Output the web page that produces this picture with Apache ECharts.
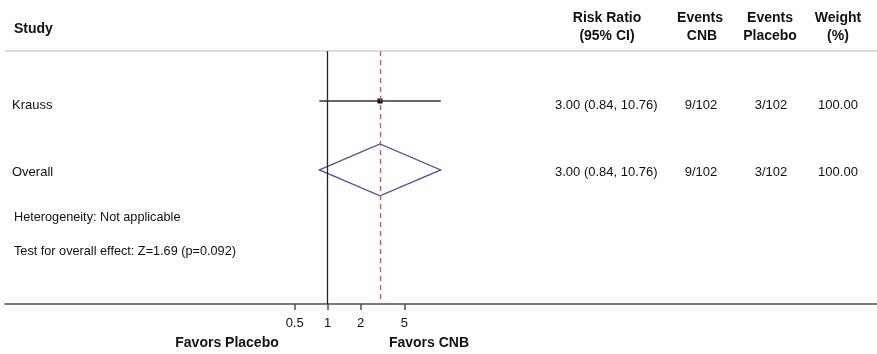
<!DOCTYPE html>
<html>
<head>
<meta charset="utf-8">
<script src="https://cdn.jsdelivr.net/npm/echarts@6/dist/echarts.min.js"></script>
<style>html,body{margin:0;padding:0;background:#fff}#c{width:877px;height:354px}</style>
</head>
<body>
<div id="c"></div>
<script>
// ---- data ----
const studies = ['Krauss'];
const studyRR = [3.00];
const studyLower = [0.84];
const studyUpper = [10.76];
const eventsCNB = ['9/102'];
const eventsPlacebo = ['3/102'];
const weights = ['100.00'];
const overallLabel = 'Overall';
const overallRR = [3.00];
const overallLower = [0.84];
const overallUpper = [10.76];
const overallEventsCNB = ['9/102'];
const overallEventsPlacebo = ['3/102'];
const overallWeight = ['100.00'];
const tickValues = [0.5, 1, 2, 5];
const tickLabels = ['0.5', '1', '2', '5'];
const hetText = 'Heterogeneity: Not applicable';
const testText = 'Test for overall effect: Z=1.69 (p=0.092)';
const favorsLeft = 'Favors Placebo';
const favorsRight = 'Favors CNB';

const FONT = "'Liberation Sans', Arial, sans-serif";
const lg = v => Math.log10(v);
const fmtRR = (r, l, u) => r.toFixed(2) + ' (' + l.toFixed(2) + ', ' + u.toFixed(2) + ')';

const studyRows = studies.map((s, i) => i + 1);
const overallRow = studies.length + 1;

const chart = echarts.init(document.getElementById('c'), null, {renderer: 'canvas'});

const whiskerData = studies.map((s, i) => [lg(studyLower[i]), lg(studyUpper[i]), studyRows[i], lg(studyRR[i])]);
const diamondData = overallRR.map((r, i) => [lg(overallLower[i]), lg(r), lg(overallUpper[i]), overallRow]);

chart.setOption({
  animation: false,
  grid: {left: 5, right: 0, top: 51, bottom: 50},
  xAxis: {
    type: 'value', min: -2.944, max: 5.012,
    splitLine: {show: false},
    axisLine: {show: true, lineStyle: {color: '#4d4d4d', width: 1.5}},
    axisTick: {show: true, length: 6, lineStyle: {color: '#4d4d4d', width: 1.5}, customValues: tickValues.map(lg)},
    axisLabel: {
      show: true, customValues: tickValues.map(lg), margin: 13,
      color: '#111', fontSize: 13, fontFamily: FONT,
      formatter: v => { const k = tickValues.findIndex(t => Math.abs(lg(t) - v) < 1e-6); return k >= 0 ? tickLabels[k] : ''; }
    }
  },
  yAxis: {type: 'value', inverse: true, min: 0.275, max: 3.945, show: false},
  series: [
    {
      type: 'custom', data: whiskerData,
      renderItem: (params, api) => {
        const a = api.coord([api.value(0), api.value(2)]);
        const b = api.coord([api.value(1), api.value(2)]);
        const p = api.coord([api.value(3), api.value(2)]);
        return {type: 'group', children: [
          {type: 'line', shape: {x1: a[0], y1: a[1], x2: b[0], y2: b[1]}, style: {stroke: '#333', lineWidth: 1.5}},
          {type: 'rect', shape: {x: p[0] - 2.5, y: p[1] - 2.5, width: 5, height: 5}, style: {fill: '#111'}}
        ]};
      },
      markLine: {
        silent: true, symbol: 'none', label: {show: false},
        data: [
          {xAxis: 0, lineStyle: {color: '#222', width: 1.3, type: 'solid'}},
          {xAxis: lg(overallRR[0]), lineStyle: {color: '#c45a5c', width: 1.3, type: [5, 4]}}
        ]
      }
    },
    {
      type: 'custom', data: diamondData,
      renderItem: (params, api) => {
        const l = api.coord([api.value(0), api.value(3)]);
        const c = api.coord([api.value(1), api.value(3)]);
        const r = api.coord([api.value(2), api.value(3)]);
        const h = 26;
        return {type: 'polygon', shape: {points: [[l[0], l[1]], [c[0], c[1] - h], [r[0], r[1]], [c[0], c[1] + h]]},
          style: {fill: 'none', stroke: '#4f4f9f', lineWidth: 1.3}};
      }
    }
  ]
});

function yOf(row) { return chart.convertToPixel({gridIndex: 0}, [0, row])[1]; }
const REG = '13px ' + FONT;
const BOLD = 'bold 14px ' + FONT;
function txt(x, y, t, align, font) {
  return {type: 'text', x: x, y: y, silent: true,
    style: {text: t, font: font || REG, fill: '#111', verticalAlign: 'middle', align: align || 'left'}};
}

const g = [];
// header separator
g.push({type: 'line', shape: {x1: 5, y1: 51, x2: 877, y2: 51}, style: {stroke: '#dcdcdc', lineWidth: 2}, silent: true});
// headers
g.push(txt(14, 29, 'Study', 'left', BOLD));
g.push(txt(607, 18, 'Risk Ratio', 'center', BOLD));
g.push(txt(607, 36, '(95% CI)', 'center', BOLD));
g.push(txt(700, 18, 'Events', 'center', BOLD));
g.push(txt(702, 36, 'CNB', 'center', BOLD));
g.push(txt(770, 18, 'Events', 'center', BOLD));
g.push(txt(770, 36, 'Placebo', 'center', BOLD));
g.push(txt(838, 18, 'Weight', 'center', BOLD));
g.push(txt(838, 36, '(%)', 'center', BOLD));
// study rows
studies.forEach((s, i) => {
  const y = yOf(studyRows[i]) + 4;
  g.push(txt(12, y, s));
  g.push(txt(555, y, fmtRR(studyRR[i], studyLower[i], studyUpper[i])));
  g.push(txt(701, y, eventsCNB[i], 'center'));
  g.push(txt(771, y, eventsPlacebo[i], 'center'));
  g.push(txt(838, y, weights[i], 'center'));
});
// overall row
{
  const y = yOf(overallRow) + 3;
  g.push(txt(12, y, overallLabel));
  g.push(txt(555, y, fmtRR(overallRR[0], overallLower[0], overallUpper[0])));
  g.push(txt(701, y, overallEventsCNB[0], 'center'));
  g.push(txt(771, y, overallEventsPlacebo[0], 'center'));
  g.push(txt(838, y, overallWeight[0], 'center'));
}
g.push(txt(14, 217, hetText, 'left', '12.7px ' + FONT));
g.push(txt(14, 251, testText, 'left', '12.7px ' + FONT));
g.push(txt(227, 343, favorsLeft, 'center', BOLD));
g.push(txt(429, 343, favorsRight, 'center', BOLD));

chart.setOption({graphic: {elements: g}});
</script>
</body>
</html>
